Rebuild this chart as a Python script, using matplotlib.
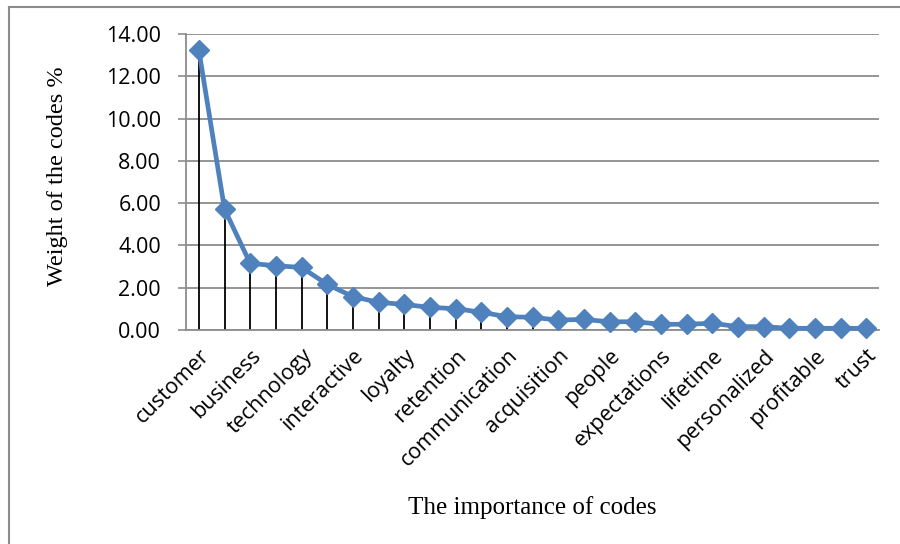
import matplotlib.pyplot as plt
from matplotlib.lines import Line2D
import numpy as np

# weight of each code (%), in rank order; only every other code gets a label
weights = [13.24, 5.72, 3.15, 3.04, 2.96, 2.16, 1.58, 1.31, 1.21, 1.07,
           1.01, 0.84, 0.63, 0.60, 0.47, 0.50, 0.39, 0.39, 0.27, 0.27,
           0.32, 0.16, 0.16, 0.08, 0.08, 0.08, 0.08]
shownLabels = ["customer", "business", "technology", "interactive", "loyalty",
               "retention", "communication", "acquisition", "people",
               "expectations", "lifetime", "personalized", "profitable", "trust"]
yTicks = [0, 2, 4, 6, 8, 10, 12, 14]

lineColor = "#4F81BD"
gridColor = "#8C8C8C"
tickFont = "Open Sans"
labelFont = "Liberation Serif"

fig = plt.figure(figsize=(9, 5.44), dpi=100)
ax = fig.add_axes([186 / 900, 1 - 330 / 544, 693 / 900, 296 / 544])

x = np.arange(len(weights))

# drop lines from each point down to zero
ax.vlines(x, 0, weights, color="black", linewidth=1.3, zorder=2)
ax.plot(x, weights, color=lineColor, linewidth=3.4, marker="D",
        markersize=10.5, markeredgecolor=lineColor, zorder=3, clip_on=False)

ax.set_xlim(-0.5, len(weights) - 0.5)
ax.set_ylim(0, 14)
ax.set_yticks(yTicks)
ax.set_yticklabels(["{:.2f}".format(v) for v in yTicks],
                   fontsize=15.5, family=tickFont)
ax.set_xticks(x[::2])
ax.set_xticklabels(shownLabels, rotation=45, ha="right",
                   rotation_mode="anchor", fontsize=15.5, family=tickFont)
ax.tick_params(axis="x", length=0, pad=11)
ax.tick_params(axis="y", length=6, color=gridColor, width=1.2, pad=12)

ax.grid(axis="y", color=gridColor, linewidth=1.3)
ax.set_axisbelow(True)
for side in ["top", "right"]:
    ax.spines[side].set_visible(False)
ax.spines["left"].set_color(gridColor)
ax.spines["left"].set_linewidth(1.3)
ax.spines["bottom"].set_color(gridColor)
ax.spines["bottom"].set_linewidth(1.3)

ax.set_xlabel("The importance of codes", fontsize=18, family=labelFont)
ax.set_ylabel("Weight of the codes %", fontsize=17.5, family=labelFont)
ax.xaxis.set_label_coords(0.5, -0.56)
ax.yaxis.set_label_coords(-0.17, 0.52)

# chart-area frame (only top and left edges fall inside the image)
fig.add_artist(Line2D([9 / 900, 1], [1 - 7 / 544, 1 - 7 / 544],
                      color=gridColor, linewidth=1.5))
fig.add_artist(Line2D([9 / 900, 9 / 900], [0, 1 - 7 / 544],
                      color=gridColor, linewidth=1.5))

fig.savefig("out.png", dpi=100)
